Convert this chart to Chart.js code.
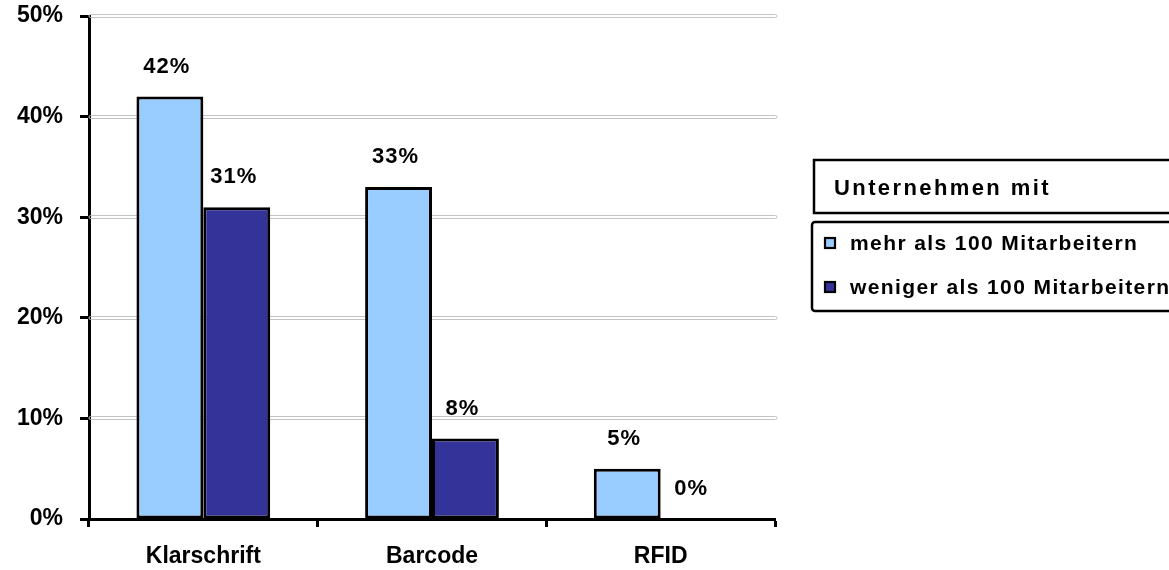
<!DOCTYPE html>
<html lang="de">
<head>
<meta charset="utf-8">
<title>Kennzeichnungsverfahren nach Unternehmensgröße</title>
<script src="https://cdn.jsdelivr.net/npm/chart.js@4/dist/chart.umd.min.js"></script>
<style>
  html, body { margin: 0; padding: 0; background: #ffffff; }
  #wrap { width: 1169px; height: 570px; }
</style>
</head>
<body>
<div id="wrap"><canvas id="chart" width="1169" height="570"></canvas></div>
<script>
// Kategorien und Werte (Anteil in %)
const categories = ['Klarschrift', 'Barcode', 'RFID'];
const seriesNames = ['mehr als 100 Mitarbeitern', 'weniger als 100 Mitarbeitern'];
const largeCompanies = [42, 33, 5];
const smallCompanies = [31, 8, 0];
const yTickValues = [0, 10, 20, 30, 40, 50];
const legendTitle = 'Unternehmen mit';

const FONT = '"Liberation Sans", Arial, Helvetica, sans-serif';

// Doppelte graue Hilfslinien hinter den Balken
const doubleGrid = {
  id: 'doubleGrid',
  beforeDatasetsDraw(chart) {
    const { ctx, chartArea, scales } = chart;
    ctx.save();
    ctx.strokeStyle = '#c4c4c4';
    ctx.lineWidth = 1;
    yTickValues.forEach(v => {
      if (v === 0) return;
      const py = Math.round(scales.y.getPixelForValue(v));
      ctx.beginPath();
      ctx.roundRect(chartArea.left, py - 1.5, chartArea.right + 2 - chartArea.left, 3, 1.5);
      ctx.stroke();
    });
    ctx.restore();
  }
};

// Wertbeschriftungen über den Balken
const valueLabels = {
  id: 'valueLabels',
  afterDatasetsDraw(chart) {
    const { ctx } = chart;
    ctx.save();
    ctx.font = 'bold 22px ' + FONT;
    ctx.fillStyle = '#000000';
    ctx.textAlign = 'center';
    ctx.textBaseline = 'middle';
    ctx.letterSpacing = '1px';
    chart.data.datasets.forEach((ds, i) => {
      const meta = chart.getDatasetMeta(i);
      meta.data.forEach((bar, j) => {
        ctx.fillText(ds.data[j] + '%', bar.x - 3, bar.y - 30);
      });
    });
    ctx.restore();
  }
};

// Legende mit Titelkasten rechts neben dem Diagramm
const boxedLegend = {
  id: 'boxedLegend',
  afterDraw(chart) {
    const { ctx } = chart;
    ctx.save();
    ctx.strokeStyle = '#000000';
    ctx.fillStyle = '#000000';
    ctx.lineWidth = 2.5;

    // Titelkasten
    ctx.strokeRect(814, 160, 420, 53);
    ctx.font = 'bold 22px ' + FONT;
    ctx.letterSpacing = '2.4px';
    ctx.textAlign = 'left';
    ctx.textBaseline = 'middle';
    ctx.fillText(legendTitle, 834, 189);

    // Eintragskasten
    ctx.beginPath();
    ctx.roundRect(812, 222, 420, 89, 3);
    ctx.stroke();

    ctx.font = 'bold 21px ' + FONT;
    ctx.letterSpacing = '1.4px';
    const rows = [243, 287];
    chart.data.datasets.forEach((ds, i) => {
      const cy = rows[i];
      ctx.fillStyle = ds.backgroundColor;
      ctx.fillRect(825, cy - 5, 10, 10);
      ctx.lineWidth = 2.2;
      ctx.strokeStyle = '#000000';
      ctx.strokeRect(825, cy - 5, 10, 10);
      ctx.fillStyle = '#000000';
      ctx.fillText(ds.label, 850, cy + 1);
    });
    ctx.restore();
  }
};

new Chart(document.getElementById('chart'), {
  type: 'bar',
  data: {
    labels: categories,
    datasets: [
      {
        label: seriesNames[0],
        data: largeCompanies,
        backgroundColor: '#99ccff',
        borderColor: '#000000',
        borderWidth: 3,
        borderSkipped: false
      },
      {
        label: seriesNames[1],
        data: smallCompanies,
        backgroundColor: '#333399',
        borderColor: '#000000',
        borderWidth: 3,
        borderSkipped: false
      }
    ]
  },
  options: {
    responsive: false,
    animation: false,
    events: [],
    layout: { padding: { top: 16, right: 394, bottom: 0, left: 0 } },
    datasets: { bar: { categoryPercentage: 0.585, barPercentage: 1.0 } },
    plugins: {
      legend: { display: false },
      tooltip: { enabled: false },
      title: { display: false }
    },
    scales: {
      x: {
        grid: {
          offset: true,
          drawOnChartArea: false,
          drawTicks: true,
          tickLength: 8,
          tickWidth: 3,
          tickColor: '#000000'
        },
        border: { display: true, color: '#000000', width: 3 },
        ticks: {
          color: '#000000',
          font: { family: FONT, size: 23, weight: 'bold' },
          padding: 16,
          maxRotation: 0
        },
        afterFit(scale) {
          scale.height = 51;
          scale.paddingLeft = 0;
          scale.paddingRight = 0;
        }
      },
      y: {
        min: 0,
        max: 50,
        afterBuildTicks(scale) {
          scale.ticks = yTickValues.map(v => ({ value: v }));
        },
        grid: {
          drawOnChartArea: false,
          drawTicks: true,
          tickLength: 9,
          tickWidth: 3,
          tickColor: '#000000'
        },
        border: { display: true, color: '#000000', width: 3 },
        ticks: {
          color: '#000000',
          font: { family: FONT, size: 23, weight: 'bold' },
          padding: 17,
          callback: v => v + '%'
        },
        afterFit(scale) {
          scale.width = 89;
          scale.paddingTop = 0;
          scale.paddingBottom = 0;
        }
      }
    }
  },
  plugins: [doubleGrid, valueLabels, boxedLegend]
});
</script>
</body>
</html>
